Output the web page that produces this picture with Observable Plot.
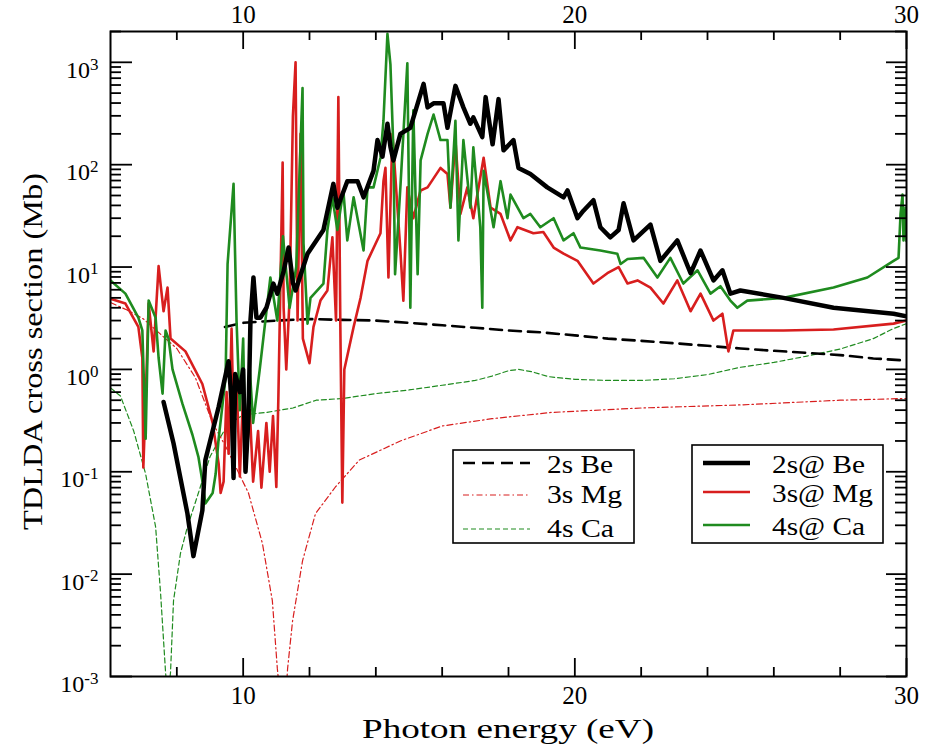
<!DOCTYPE html>
<html>
<head>
<meta charset="utf-8">
<script src="https://cdn.jsdelivr.net/npm/d3@7"></script>
<script src="https://cdn.jsdelivr.net/npm/@observablehq/plot@0.6"></script>
<style>
  html, body { margin: 0; padding: 0; background: #fff; }
  svg { display: block; }
</style>
</head>
<body>
<div id="chart"></div>
<script>
// ---------- data: [photon energy (eV), cross section (Mb)] ----------
const be2s = [[9.45,2.6],[10,2.85],[11,3.0],[12,3.1],[13,3.05],[14,3.0],[15,2.85],[16,2.7],[17,2.55],[18,2.4],[19,2.3],[20,2.15],[21,2.0],[22,1.9],[23,1.8],[24,1.7],[25,1.6],[26,1.52],[27,1.45],[28,1.38],[29,1.28],[30,1.22]];

const mg3s = [[6,4.5],[6.5,3.8],[7,3.1],[7.66,2.0],[8,1.6],[8.56,0.83],[9.08,0.3],[9.5,0.17],[10.16,0.062],[10.58,0.02],[10.88,0.0055],[11.03,0.0012],[11.12,0.0006],[11.28,0.0006],[11.34,0.0012],[11.49,0.0035],[11.79,0.0135],[12.18,0.039],[12.78,0.071],[13.5,0.13],[14.74,0.2],[16,0.28],[17.5,0.33],[19.3,0.38],[22,0.42],[25,0.45],[28,0.5],[30,0.52]];

const ca4s = [[6,0.66],[6.3,0.55],[6.7,0.25],[7.06,0.095],[7.36,0.029],[7.51,0.0065],[7.66,0.0011],[7.73,0.0006],[7.81,0.0011],[7.9,0.0055],[8.11,0.016],[8.32,0.029],[8.65,0.062],[9.0,0.14],[9.5,0.28],[10,0.36],[10.7,0.38],[11.5,0.42],[12.2,0.5],[13,0.52],[14,0.58],[15,0.63],[16,0.7],[17,0.78],[17.5,0.86],[18,0.97],[18.3,1.0],[18.7,0.95],[19.2,0.85],[20,0.8],[21,0.78],[22,0.78],[23,0.81],[24,0.89],[25,1.05],[26,1.17],[27,1.35],[28,1.58],[29,2.0],[29.6,2.5],[30,2.8]];

const be2sAt = [[7.6,0.48],[7.9,0.19],[8.32,0.039],[8.5,0.015],[8.77,0.042],[8.86,0.13],[9.26,0.43],[9.56,1.2],[9.65,0.5],[9.71,0.087],[9.76,0.9],[9.9,0.6],[10.0,1.0],[10.07,0.1],[10.16,0.35],[10.22,3.0],[10.31,7.9],[10.4,3.2],[10.52,3.2],[10.7,4.0],[10.91,6.9],[11.03,5.5],[11.22,9.1],[11.37,15.5],[11.5,7],[11.58,5.9],[11.94,13.5],[12.42,23],[12.72,65],[12.84,38],[13.14,69],[13.45,69],[13.63,48],[13.93,87],[14.05,174],[14.2,120],[14.35,251],[14.44,150],[14.53,110],[14.74,200],[15.04,229],[15.44,617],[15.56,363],[15.74,398],[16.04,398],[16.16,229],[16.4,589],[16.64,363],[16.85,251],[16.94,290],[17.21,186],[17.31,457],[17.52,158],[17.7,437],[17.85,138],[18.15,174],[18.3,93],[18.66,81],[19.17,60],[19.66,48],[19.78,56],[20.08,30],[20.26,35.5],[20.56,45],[20.77,24.5],[21.07,19.5],[21.32,23],[21.47,42],[21.77,18.2],[22.28,26],[22.58,11.5],[23.09,18.2],[23.49,8.7],[23.79,14.5],[24.18,7.4],[24.45,9.3],[24.69,5.5],[24.99,5.9],[26.29,5.0],[27.8,4.0],[29.61,3.5],[30,3.3]];

const mg3sAt = [[6.0,4.9],[6.45,4.4],[6.84,2.6],[6.96,1.3],[6.99,0.11],[7.06,0.5],[7.15,4.4],[7.3,1.5],[7.45,10.2],[7.6,3.7],[7.72,6.3],[7.81,2.0],[8.26,1.5],[8.77,0.72],[9.08,0.3],[9.26,0.12],[9.32,0.062],[9.41,0.08],[9.5,0.6],[9.56,0.15],[9.65,2.5],[9.71,0.3],[9.8,0.8],[9.9,0.09],[10.0,0.6],[10.07,0.1],[10.2,0.4],[10.3,0.08],[10.45,0.25],[10.55,0.07],[10.7,0.3],[10.8,0.1],[10.9,0.35],[11.0,0.071],[11.06,0.5],[11.19,105],[11.22,4.0],[11.3,1.0],[11.4,5],[11.5,300],[11.58,1000],[11.64,3.0],[11.73,200],[11.8,2.0],[12.0,1.15],[12.12,2.6],[12.33,4.7],[12.54,5.9],[12.69,19.5],[12.8,3],[12.87,457],[12.93,2.6],[12.99,0.05],[13.05,1.0],[13.33,2.6],[13.54,5],[13.75,11.5],[14.14,21.4],[14.23,69],[14.29,93],[14.38,7.9],[14.5,200],[14.74,14.5],[14.83,4.7],[14.95,60],[15.13,30],[15.35,56],[15.56,60],[15.95,93],[16.16,81],[16.25,38],[16.4,174],[16.55,33],[16.76,60],[16.94,30],[17.25,117],[17.46,38],[17.76,33],[18.06,18.2],[18.27,24.5],[18.75,21.4],[19.05,22],[19.36,15.5],[19.66,13.5],[20.08,11.5],[20.56,6.9],[20.98,8.7],[21.32,10],[21.59,6.9],[21.89,7.4],[22.28,6.3],[22.67,4.4],[23.09,7.4],[23.49,3.7],[23.79,5.5],[24.18,3.0],[24.45,3.5],[24.63,1.5],[24.78,2.4],[24.99,2.4],[26.29,2.4],[27.8,2.45],[29.61,2.8],[30,3.0]];

const ca4sAt = [[6.0,7.4],[6.45,5.5],[6.84,3.2],[6.96,2.4],[7.06,0.21],[7.15,4.7],[7.36,3.2],[7.45,1.3],[7.57,0.58],[7.66,2.4],[7.75,2.0],[7.87,1.0],[8.17,0.46],[8.47,0.23],[8.65,0.14],[8.77,0.081],[8.86,0.049],[9.08,0.062],[9.17,0.095],[9.26,0.21],[9.47,0.83],[9.53,10.7],[9.71,65],[9.8,3.0],[9.9,0.4],[10.0,2.0],[10.07,0.12],[10.2,1.0],[10.3,0.3],[10.5,1.0],[10.82,7.9],[11.03,3.0],[11.2,20],[11.4,4],[11.6,10],[11.79,562],[11.82,17],[11.94,2.8],[12.03,5.0],[12.42,6.9],[12.54,23],[12.69,48],[12.84,23],[13.02,56],[13.14,18.2],[13.33,48],[13.63,14.5],[13.75,60],[13.93,60],[14.14,117],[14.23,269],[14.35,1900],[14.44,955],[14.53,138],[14.58,8.5],[14.74,60],[14.95,977],[15.04,4.0],[15.13,339],[15.26,8.5],[15.35,110],[15.56,200],[15.74,309],[15.95,174],[16.16,174],[16.25,38],[16.4,269],[16.49,18.2],[16.64,174],[16.85,38],[16.94,148],[17.15,24.5],[17.21,4.0],[17.25,87],[17.55,24.5],[17.76,69],[17.97,30],[18.06,51],[18.45,30],[18.66,33],[18.96,24.5],[19.36,30],[19.66,18.2],[19.96,21.4],[20.17,15.5],[20.77,14.5],[21.28,13.5],[21.38,10.7],[21.59,12],[22.07,12.3],[22.49,7.9],[22.88,12.3],[23.27,6.9],[23.7,9.3],[24.09,5.5],[24.39,6.5],[24.69,4.7],[24.9,4.0],[25.2,4.7],[26.29,5.0],[27.8,6.3],[28.82,7.9],[29.61,11.5],[29.76,12.3],[29.82,33],[29.88,51],[29.91,18.2],[29.97,38],[30,18]];

const xMajorTicks = [10, 20, 30];
const xMinorTicks = [8, 12, 14, 16, 18, 22, 24, 26, 28];
const yMajorTicks = [1e-3, 1e-2, 1e-1, 1, 10, 100, 1000];
const yMinorTicks = yMajorTicks.flatMap(d => [2,3,4,5,6,7,8,9].map(k => +(k * d).toPrecision(3))).filter(v => v <= 2000);

const freeLabels = ["2s Be", "3s Mg", "4s Ca"];
const confLabels = ["2s@ Be", "3s@ Mg", "4s@ Ca"];

// ---------- layout ----------
const W = 925, H = 748, ML = 110, MR = 19, MT = 31, MB = 72;
const FW = W - ML - MR, FH = H - MT - MB;
const RED = "#d81e1e", GREEN = "#1f8b1f";
const rows = pairs => pairs.map(([x, y]) => ({x, y}));
const tk = {stroke: "black", strokeWidth: 1.8};

const styles = {
  be2s:   {stroke: "black", strokeWidth: 2.6, strokeDasharray: "12,7"},
  mg3s:   {stroke: RED, strokeWidth: 1.2, strokeDasharray: "6,3,1.5,3"},
  ca4s:   {stroke: GREEN, strokeWidth: 1.2, strokeDasharray: "5,3"},
  be2sAt: {stroke: "black", strokeWidth: 4.5},
  mg3sAt: {stroke: RED, strokeWidth: 2.6},
  ca4sAt: {stroke: GREEN, strokeWidth: 2.6}
};
const ln = (d, s) => Plot.line(rows(d), {x: "x", y: "y", clip: true, ...s});

const chart = Plot.plot({
  width: W, height: H,
  marginLeft: ML, marginRight: MR, marginTop: MT, marginBottom: MB,
  style: {fontFamily: "'Liberation Serif', 'Times New Roman', serif", fontSize: "25px", background: "white", color: "black", overflow: "visible"},
  x: {type: "linear", domain: [6, 30]},
  y: {type: "log", domain: [1e-3, 2000]},
  marks: [
    ln(ca4s, styles.ca4s),
    ln(mg3s, styles.mg3s),
    ln(be2s, styles.be2s),
    ln(mg3sAt, styles.mg3sAt),
    ln(ca4sAt, styles.ca4sAt),
    ln(be2sAt, styles.be2sAt),
    // inward ticks on all four sides
    Plot.ruleX(xMajorTicks, {...tk, insetTop: FH - 18}),
    Plot.ruleX(xMajorTicks, {...tk, insetBottom: FH - 18}),
    Plot.ruleX(xMinorTicks, {...tk, insetTop: FH - 9}),
    Plot.ruleX(xMinorTicks, {...tk, insetBottom: FH - 9}),
    Plot.ruleY(yMajorTicks, {...tk, insetRight: FW - 22}),
    Plot.ruleY(yMajorTicks, {...tk, insetLeft: FW - 20}),
    Plot.ruleY(yMinorTicks, {...tk, insetRight: FW - 11}),
    Plot.ruleY(yMinorTicks, {...tk, insetLeft: FW - 11}),
    Plot.frame({stroke: "black", strokeWidth: 2}),
    Plot.axisX({anchor: "bottom", ticks: xMajorTicks, tickSize: 0, tickPadding: 10, tickFormat: d => String(d), label: null}),
    Plot.axisX({anchor: "top", ticks: xMajorTicks, tickSize: 0, tickPadding: 9, tickFormat: d => String(d), label: null}),
    Plot.axisY({anchor: "left", ticks: yMajorTicks, tickSize: 0, tickPadding: 12, dy: 8, tickFormat: d => String(Math.round(Math.log10(d))), label: null})
  ]
});

document.getElementById("chart").appendChild(chart);
const svg = d3.select(chart);

// y tick labels as 10 with superscript exponent
svg.selectAll('g[aria-label="y-axis tick label"] text').each(function () {
  const e = this.textContent.replace("−", "-");
  const t = d3.select(this);
  t.text(null).style("font-size", "24px");
  t.append("tspan").text("10");
  t.append("tspan").attr("dy", "-0.5em").style("font-size", "17px").text(e);
});

// axis titles
const ff = "'Liberation Serif', 'Times New Roman', serif";
svg.append("text")
  .attr("x", ML + FW / 2).attr("y", 738)
  .attr("text-anchor", "middle").attr("font-family", ff).attr("font-size", 28)
  .attr("textLength", 292).attr("lengthAdjust", "spacingAndGlyphs")
  .attr("fill", "black")
  .text("Photon energy (eV)");
svg.append("text")
  .attr("transform", `translate(42,${MT + FH / 2 - 2}) rotate(-90)`)
  .attr("text-anchor", "middle").attr("font-family", ff).attr("font-size", 28)
  .attr("textLength", 357).attr("lengthAdjust", "spacingAndGlyphs")
  .attr("fill", "black")
  .text("TDLDA cross section (Mb)");

// legends
function legend(box, lineX, textX, rowsY, baseY, labels, lens, sty) {
  const g = svg.append("g").attr("text-anchor", "start");
  g.append("rect").attr("x", box[0]).attr("y", box[1]).attr("width", box[2]).attr("height", box[3])
    .attr("fill", "white").attr("stroke", "black").attr("stroke-width", 1.6);
  labels.forEach((lab, i) => {
    const s = sty[i];
    g.append("line").attr("x1", lineX[0]).attr("x2", lineX[1]).attr("y1", rowsY[i]).attr("y2", rowsY[i])
      .attr("stroke", s.stroke).attr("stroke-width", s.strokeWidth)
      .attr("stroke-dasharray", s.strokeDasharray || null);
    g.append("text").attr("x", textX).attr("y", baseY[i]).attr("text-anchor", "start")
      .attr("font-family", ff).attr("font-size", 25)
      .attr("textLength", lens[i]).attr("lengthAdjust", "spacingAndGlyphs").attr("fill", "black").text(lab);
  });
}
legend([453, 450, 181, 93], [463, 530], 547, [463, 495, 529], [473, 503, 537], freeLabels, [66, 75, 67],
  [styles.be2s, styles.mg3s, styles.ca4s]);
legend([692, 445, 191, 98], [703, 750], 772, [463, 492, 525], [473, 502, 535], confLabels, [93, 101, 93],
  [styles.be2sAt, styles.mg3sAt, styles.ca4sAt]);
</script>
</body>
</html>
